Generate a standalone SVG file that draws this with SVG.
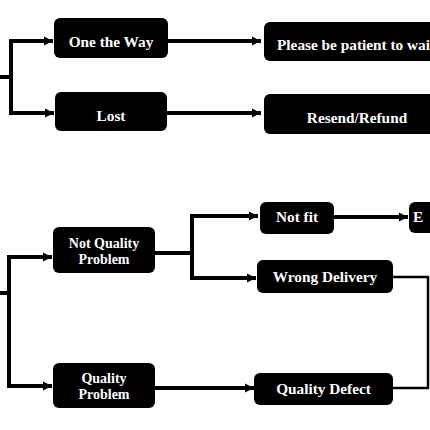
<svg xmlns="http://www.w3.org/2000/svg" width="430" height="430" viewBox="0 0 430 430">
<defs>
<style>
.box{fill:#000}
.t{fill:#fff;font-family:"Liberation Serif","DejaVu Serif",serif;font-weight:bold;font-size:15.3px;text-anchor:middle}
.t2{font-size:14px}
.c{fill:none;stroke:#000;stroke-width:4;stroke-linejoin:miter}
.thin{fill:none;stroke:#000;stroke-width:2.5}
</style>
<marker id="ah" markerUnits="userSpaceOnUse" markerWidth="10" markerHeight="10" viewBox="0 0 10 10" refX="9" refY="5" orient="auto">
<path d="M0,0.5 L9,5 L0,9.5 Z" fill="#000"/>
</marker>
</defs>
<rect width="430" height="430" fill="#fff"/>
<g id="connectors">
<path class="c" d="M0,77 H11 M11,41 V114"/>
<path class="c" d="M9,41 H53" marker-end="url(#ah)"/>
<path class="c" d="M9,113 H54" marker-end="url(#ah)"/>
<path class="c" d="M168,41 H261" marker-end="url(#ah)"/>
<path class="c" d="M167,113 H261" marker-end="url(#ah)"/>
<path class="c" d="M0,293 H9 M9,255 V388"/>
<path class="c" d="M7,257 H52" marker-end="url(#ah)"/>
<path class="c" d="M7,386 H52" marker-end="url(#ah)"/>
<path class="c" d="M155,253 H192 M192,214 V280"/>
<path class="c" d="M190,216 H258" marker-end="url(#ah)"/>
<path class="c" d="M190,278 H256" marker-end="url(#ah)"/>
<path class="c" d="M334,217 H408" marker-end="url(#ah)"/>
<path class="c" d="M155,388 H254" marker-end="url(#ah)"/>
<path class="thin" d="M393,277 H428 V388 H393"/>
</g>
<g id="n-one-the-way"><rect class="box" x="54" y="18" width="114" height="40" rx="6"/><text class="t" x="111" y="47">One the Way</text></g>
<g id="n-lost"><rect class="box" x="55" y="92" width="112" height="39" rx="6"/><text class="t" x="111" y="121">Lost</text></g>
<g id="n-patient"><rect class="box" x="264" y="22" width="180" height="39" rx="6"/><text class="t" x="277" y="50" style="text-anchor:start">Please be patient to wait</text></g>
<g id="n-resend"><rect class="box" x="264" y="94" width="180" height="40" rx="6"/><text class="t" x="357" y="123">Resend/Refund</text></g>
<g id="n-not-quality"><rect class="box" x="53" y="227" width="102" height="46" rx="6"/><text class="t t2" x="104" y="247.5">Not Quality</text><text class="t t2" x="104" y="263.5">Problem</text></g>
<g id="n-quality"><rect class="box" x="53" y="363" width="102" height="45" rx="6"/><text class="t t2" x="104" y="382.5">Quality</text><text class="t t2" x="104" y="398.5">Problem</text></g>
<g id="n-not-fit"><rect class="box" x="260" y="202" width="74" height="32" rx="6"/><text class="t" x="297" y="222">Not fit</text></g>
<g id="n-exchange"><rect class="box" x="409" y="202" width="40" height="31" rx="6"/><text class="t" x="413" y="222" style="text-anchor:start">E</text></g>
<g id="n-wrong"><rect class="box" x="257" y="260" width="136" height="33" rx="6"/><text class="t" x="325" y="282">Wrong Delivery</text></g>
<g id="n-defect"><rect class="box" x="254" y="373" width="139" height="32" rx="6"/><text class="t" x="323.5" y="394">Quality Defect</text></g>
</svg>
